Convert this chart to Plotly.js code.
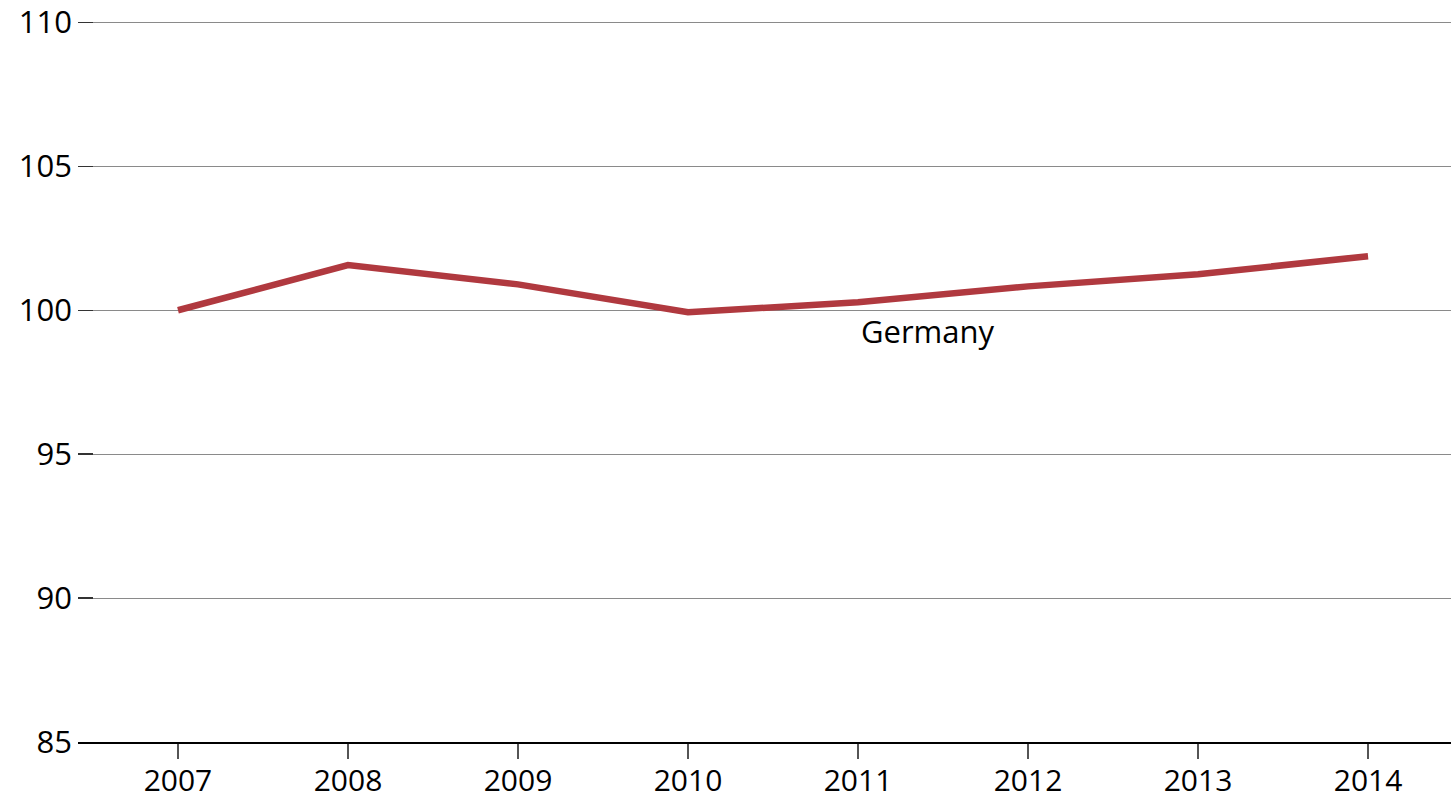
<!DOCTYPE html>
<html>
<head>
<meta charset="utf-8">
<script src="https://cdn.plot.ly/plotly-3.0.1.min.js"></script>
<style>html,body{margin:0;padding:0;background:#fff;}#chart{width:1451px;height:802px;}</style>
</head>
<body>
<div id="chart"></div>
<script>
const years = [2007, 2008, 2009, 2010, 2011, 2012, 2013, 2014];
const germany = [100.0, 101.57, 100.9, 99.93, 100.28, 100.83, 101.25, 101.88];
const yTicks = [85, 90, 95, 100, 105, 110];
const seriesLabel = "Germany";

const data = [{
  x: years, y: germany, type: "scatter", mode: "lines",
  line: {color: "#B0393F", width: 6.5},
  hoverinfo: "skip", showlegend: false
}];

const layout = {
  width: 1451, height: 802,
  margin: {l: 78, r: 0, t: 20.5, b: 60},
  paper_bgcolor: "#fff", plot_bgcolor: "#fff",
  font: {family: "Open Sans, sans-serif", color: "#000"},
  xaxis: {
    range: [2006.412, 2014.488],
    tickvals: years, ticktext: years.map(String),
    showgrid: false, zeroline: false,
    showline: true, linecolor: "#000", linewidth: 1.5,
    ticks: "outside", ticklen: 15, tickcolor: "#555", tickwidth: 1.5,
    ticklabelstandoff: -4,
    tickfont: {size: 30, family: "Open Sans, sans-serif", color: "#000"}
  },
  yaxis: {
    range: [85, 110.05],
    tickvals: yTicks, ticktext: yTicks.map(String),
    showgrid: true, gridcolor: "#8a8a8a", gridwidth: 1,
    zeroline: false, showline: false,
    ticks: "inside", ticklen: 15, tickcolor: "#333", tickwidth: 1.5,
    ticklabelstandoff: 5,
    tickfont: {size: 31, family: "Open Sans, sans-serif", color: "#000"}
  },
  annotations: [{
    x: 2011.41, y: 99.27, xref: "x", yref: "y",
    text: seriesLabel, showarrow: false,
    font: {size: 31, family: "Open Sans, sans-serif", color: "#000"}
  }]
};

Plotly.newPlot("chart", data, layout, {displayModeBar: false, staticPlot: true});
</script>
</body>
</html>
